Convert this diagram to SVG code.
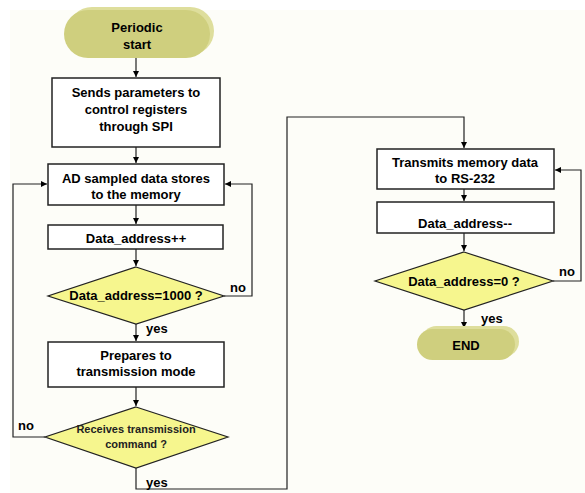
<svg xmlns="http://www.w3.org/2000/svg" width="585" height="493" viewBox="0 0 585 493">
<defs>
<marker id="ah" markerWidth="6" markerHeight="6" refX="6" refY="3" orient="auto" markerUnits="userSpaceOnUse">
<path d="M0,0 L6,3 L0,6 Z" fill="#000"/>
</marker>
<style>
.box{fill:#fff;stroke:#222;stroke-width:1.5}
.dia{fill:#f6f68e;stroke:#222;stroke-width:1.2}
.termb{fill:#dede9c}
.term{fill:#cfcf7e}
.t{font-family:"Liberation Sans",Arial,sans-serif;font-weight:bold;font-size:13px;fill:#000;text-anchor:middle}
.s{font-size:11px;fill:#222}
.l{font-family:"Liberation Sans",Arial,sans-serif;font-weight:bold;font-size:13px;fill:#000}
.c{fill:none;stroke:#222;stroke-width:1.2}
</style>
</defs>
<rect x="0" y="0" width="585" height="493" fill="#fff"/>
<rect x="10" y="10" width="575" height="483" fill="#fdfdf8"/>
<g id="connectors">
<path class="c" d="M136,58 V77" marker-end="url(#ah)"/>
<path class="c" d="M136,147 V163" marker-end="url(#ah)"/>
<path class="c" d="M136,205 V224" marker-end="url(#ah)"/>
<path class="c" d="M136,249 V266" marker-end="url(#ah)"/>
<path class="c" d="M224,296 H252 V184 H225" marker-end="url(#ah)"/>
<path class="c" d="M136,324 V341" marker-end="url(#ah)"/>
<path class="c" d="M136,387 V406" marker-end="url(#ah)"/>
<path class="c" d="M45,437 H13 V184 H47" marker-end="url(#ah)"/>
<path class="c" d="M136,468 V489 H287 V117 H464 V148" marker-end="url(#ah)"/>
<path class="c" d="M464,189 V201" marker-end="url(#ah)"/>
<path class="c" d="M464,233 V251" marker-end="url(#ah)"/>
<path class="c" d="M553,281 H581 V170 H555" marker-end="url(#ah)"/>
<path class="c" d="M464,310 V328" marker-end="url(#ah)"/>
</g>
<g id="start">
<rect class="termb" x="68" y="7" width="146" height="48" rx="24"/>
<rect class="term" x="64" y="10" width="146" height="48" rx="24"/>
<text class="t" x="137" y="32">Periodic</text>
<text class="t" x="137" y="49">start</text>
</g>
<g id="send">
<rect class="box" x="52" y="78" width="168" height="69"/>
<text class="t" x="136" y="97">Sends parameters to</text>
<text class="t" x="136" y="114">control registers</text>
<text class="t" x="136" y="131">through SPI</text>
</g>
<g id="store">
<rect class="box" x="48" y="164" width="176" height="41"/>
<text class="t" x="136" y="183">AD sampled data stores</text>
<text class="t" x="136" y="199">to the memory</text>
</g>
<g id="inc">
<rect class="box" x="48" y="225" width="175" height="24"/>
<text class="t" x="136" y="243">Data_address++</text>
</g>
<g id="check1000">
<polygon class="dia" points="136,267 224,296 136,324 48,296"/>
<text class="t" x="136" y="300">Data_address=1000 ?</text>
</g>
<g id="prepare">
<rect class="box" x="48" y="342" width="176" height="45"/>
<text class="t" x="136" y="360">Prepares to</text>
<text class="t" x="136" y="376">transmission mode</text>
</g>
<g id="receive">
<polygon class="dia" points="136,407 228,437 136,468 45,437"/>
<text class="t s" x="136" y="433">Receives transmission</text>
<text class="t s" x="136" y="448">command ?</text>
</g>
<g id="transmit">
<rect class="box" x="377" y="149" width="177" height="40"/>
<text class="t" x="465" y="167">Transmits memory data</text>
<text class="t" x="465" y="183">to RS-232</text>
</g>
<g id="dec">
<rect class="box" x="377" y="202" width="177" height="31"/>
<text class="t" x="465" y="228">Data_address--</text>
</g>
<g id="check0">
<polygon class="dia" points="464,252 553,281 464,310 375,281"/>
<text class="t" x="464" y="286">Data_address=0 ?</text>
</g>
<g id="end">
<rect class="termb" x="421" y="326" width="98" height="31" rx="15.5"/>
<rect class="term" x="417" y="329" width="98" height="31" rx="15.5"/>
<text class="t" x="466" y="350">END</text>
</g>
<g id="labels">
<text class="l" x="230" y="292">no</text>
<text class="l" x="146" y="333">yes</text>
<text class="l" x="18" y="430">no</text>
<text class="l" x="146" y="487">yes</text>
<text class="l" x="559" y="276">no</text>
<text class="l" x="481" y="323">yes</text>
</g>
</svg>
